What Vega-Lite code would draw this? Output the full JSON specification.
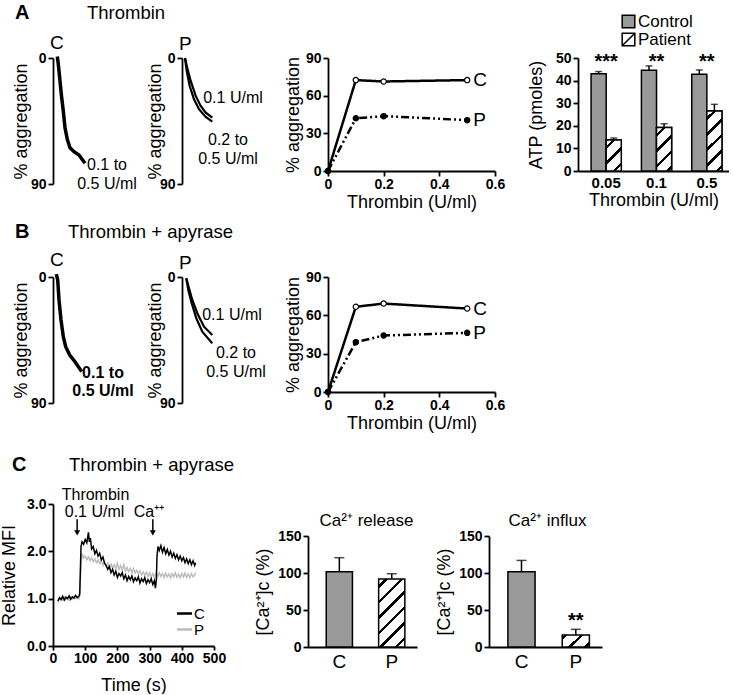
{
"$schema":"https://vega.github.io/schema/vega-lite/v6.json",
"padding":{"left":0,"top":2,"right":0,"bottom":0},
"background":"white",
"config":{
 "font":"Liberation Sans",
 "view":{"stroke":null},
 "axis":{"domainColor":"black","domainWidth":1.8,"tickColor":"black","tickWidth":1.8,"tickSize":5,"labelFont":"Liberation Sans","labelFontWeight":"bold","labelFontSize":14,"labelColor":"black","titleFont":"Liberation Sans","titleFontWeight":"normal","titleFontSize":18,"titleColor":"black","grid":false,"labelPadding":2,"labelOverlap":false,"labelFlush":false},
 "title":{"font":"Liberation Sans","fontWeight":"normal","fontSize":19,"color":"black","anchor":"start"}
},
"resolve":{"scale":{"fill":"independent","stroke":"independent"},"legend":{"fill":"independent","stroke":"independent"}},
"vconcat":[
 {"vconcat":[
  {"hconcat":[
   {"width":46,"height":126,
    "title":{"text":"C","frame":"group","dx":-3,"offset":-3},
    "data":{"values":[{"t":4.3,"agg":-1},{"t":5.3,"agg":4.5},{"t":6.7,"agg":14.1},{"t":8.3,"agg":25.9},{"t":10.3,"agg":37.9},{"t":12,"agg":49.8},{"t":14.3,"agg":58.1},{"t":17,"agg":64.1},{"t":21,"agg":66.9},{"t":26,"agg":69.3},{"t":32,"agg":75.2}]},
    "layer":[
     {"mark":{"type":"line","color":"black","strokeWidth":3.5},
      "encoding":{"x":{"field":"t","type":"quantitative","scale":{"domain":[0,46],"nice":false},"axis":null},
       "y":{"field":"agg","type":"quantitative","scale":{"domain":[0,90],"nice":false,"reverse":true},"axis":{"values":[0,90],"title":"% aggregation","titlePadding":0}}}},
     {"data":{"values":[{"label":"0.1 to\n0.5 U/ml","t":54,"agg":76.1}]},
      "mark":{"type":"text","lineBreak":"\n","fontSize":16,"align":"center","baseline":"middle","lineHeight":19,"color":"black"},
      "encoding":{"x":{"field":"t","type":"quantitative"},"y":{"field":"agg","type":"quantitative"},"text":{"field":"label"}}}
    ]},
   {"width":63,"height":126,
    "title":{"text":"P","frame":"group","dx":-3,"offset":-3},
    "data":{"values":[
     {"t":3,"agg":0,"c":"0.1"},{"t":5.3,"agg":7.1,"c":"0.1"},{"t":8.7,"agg":16.4,"c":"0.1"},{"t":13.7,"agg":27.1,"c":"0.1"},{"t":18.7,"agg":34.3,"c":"0.1"},{"t":23.7,"agg":39,"c":"0.1"},{"t":30.3,"agg":42.6,"c":"0.1"},
     {"t":3,"agg":0,"c":"0.2-0.5"},{"t":4.7,"agg":9.3,"c":"0.2-0.5"},{"t":7.7,"agg":20,"c":"0.2-0.5"},{"t":12,"agg":29.5,"c":"0.2-0.5"},{"t":17,"agg":36.6,"c":"0.2-0.5"},{"t":23.7,"agg":42.1,"c":"0.2-0.5"},{"t":30.3,"agg":45.5,"c":"0.2-0.5"}]},
    "layer":[
     {"mark":{"type":"line","color":"black","strokeWidth":2.2},
      "encoding":{"x":{"field":"t","type":"quantitative","scale":{"domain":[0,63],"nice":false},"axis":null},
       "y":{"field":"agg","type":"quantitative","scale":{"domain":[0,90],"nice":false,"reverse":true},"axis":{"values":[0,90],"title":"% aggregation","titlePadding":-5}},
       "detail":{"field":"c","type":"nominal"}}},
     {"data":{"values":[{"label":"0.1 U/ml","t":51,"agg":28.6},{"label":"0.2 to\n0.5 U/ml","t":46,"agg":58.9}]},
      "mark":{"type":"text","lineBreak":"\n","fontSize":16,"align":"center","baseline":"middle","lineHeight":19,"color":"black"},
      "encoding":{"x":{"field":"t","type":"quantitative"},"y":{"field":"agg","type":"quantitative"},"text":{"field":"label"}}}
    ]},
   {"width":167,"height":113,
    "title":{"text":"Thrombin","fontSize":18.5,"frame":"group","dx":-241,"offset":29},
    "data":{"values":[{"dose":0,"agg":0,"s":"C"},{"dose":0.1,"agg":72.4,"s":"C"},{"dose":0.2,"agg":71.3,"s":"C"},{"dose":0.5,"agg":72.4,"s":"C"},{"dose":0,"agg":0,"s":"P"},{"dose":0.1,"agg":42,"s":"P"},{"dose":0.2,"agg":43.7,"s":"P"},{"dose":0.5,"agg":40.5,"s":"P"}]},
    "encoding":{"x":{"field":"dose","type":"quantitative","scale":{"domain":[0,0.6],"nice":false},"axis":{"values":[0,0.2,0.4,0.6],"format":"~g","title":"Thrombin (U/ml)","labelPadding":1,"titlePadding":2}},
     "y":{"field":"agg","type":"quantitative","scale":{"domain":[0,90],"nice":false},"axis":{"values":[0,30,60,90],"title":"% aggregation","titlePadding":3}}},
    "layer":[
     {"mark":{"type":"line","color":"black","strokeWidth":2.5},"encoding":{"strokeDash":{"field":"s","type":"nominal","scale":{"domain":["C","P"],"range":[[1,0],[8,3,2,3,2,3]]},"legend":null}}},
     {"transform":[{"filter":"datum.s == 'C'"}],"mark":{"type":"point","filled":true,"fill":"white","stroke":"black","size":28,"strokeWidth":1.2,"opacity":1}},
     {"transform":[{"filter":"datum.s == 'P'"}],"mark":{"type":"point","filled":true,"fill":"black","stroke":"black","size":28,"strokeWidth":1.2,"opacity":1}},
     {"transform":[{"filter":"datum.dose == 0.5"}],"mark":{"type":"text","align":"left","dx":6,"fontSize":19,"baseline":"middle","color":"black"},"encoding":{"text":{"field":"s"}}}
    ]},
   {"width":151,"height":113,
    "data":{"values":[
     {"dose":"0.05","group":"Control","atp":43,"hi":44},{"dose":"0.05","group":"Patient","atp":13.7,"hi":14.6},
     {"dose":"0.1","group":"Control","atp":44.6,"hi":46.5},{"dose":"0.1","group":"Patient","atp":19.2,"hi":20.9},
     {"dose":"0.5","group":"Control","atp":42.8,"hi":44.7},{"dose":"0.5","group":"Patient","atp":26.5,"hi":29.5}]},
    "encoding":{"x":{"field":"dose","type":"nominal","sort":["0.05","0.1","0.5"],"scale":{"paddingInner":0.4,"paddingOuter":0.2,"align":0.65},"axis":{"title":"Thrombin (U/ml)","labelAngle":0,"ticks":false,"labelFontSize":15,"labelPadding":4,"titlePadding":1}},
     "y":{"field":"atp","type":"quantitative","scale":{"domain":[0,50],"nice":false},"axis":{"values":[0,10,20,30,40,50],"title":"ATP (pmoles)","titlePadding":10}}},
    "layer":[
     {"mark":{"type":"bar","stroke":"black","strokeWidth":1.5},
      "encoding":{"xOffset":{"field":"group","type":"nominal","scale":{"domain":["Control","Patient"],"paddingInner":0,"paddingOuter":0}},
       "fill":{"field":"group","type":"nominal","scale":{"domain":["Control","Patient"],"range":["#999999","white"]},
        "legend":{"orient":"none","legendX":42,"legendY":-45,"title":null,"symbolType":"square","symbolSize":160,"symbolStrokeColor":"black","symbolStrokeWidth":1.5,"symbolOpacity":1,"labelFontSize":17,"labelFont":"Liberation Sans","labelColor":"black","rowPadding":-1,"labelOffset":1,
         "encode":{"symbols":{"update":{"stroke":{"value":"black"},"strokeWidth":{"value":1.5},"opacity":{"value":1},"fill":[{"test":"datum.label === 'Patient'","value":"white"},{"value":"#999999"}],"shape":[{"test":"datum.label === 'Patient'","value":"M-1,-1H1V1H-1Z M-1,1L1,-1"},{"value":"square"}]}}}}}}},
     {"transform":[{"filter":"datum.group == 'Patient' && datum.dose == '0.05'"}],
      "mark":{"type":"bar","stroke":"black","strokeWidth":1.5,"fill":{"gradient":"linear","x1":0,"y1":0,"x2":0.5818,"y2":1.2024,"stops":[{"offset":0,"color":"white"},{"offset":0.1307,"color":"white"},{"offset":0.1307,"color":"black"},{"offset":0.2075,"color":"black"},{"offset":0.2075,"color":"white"},{"offset":0.4676,"color":"white"},{"offset":0.4676,"color":"black"},{"offset":0.5444,"color":"black"},{"offset":0.5444,"color":"white"},{"offset":0.8045,"color":"white"},{"offset":0.8045,"color":"black"},{"offset":0.8813,"color":"black"},{"offset":0.8813,"color":"white"},{"offset":1,"color":"white"}]}},
      "encoding":{"xOffset":{"field":"group","type":"nominal"}}},
     {"transform":[{"filter":"datum.group == 'Patient' && datum.dose == '0.1'"}],
      "mark":{"type":"bar","stroke":"black","strokeWidth":1.5,"fill":{"gradient":"linear","x1":0,"y1":0,"x2":0.4155,"y2":1.2021,"stops":[{"offset":0,"color":"white"},{"offset":0.1029,"color":"white"},{"offset":0.1029,"color":"black"},{"offset":0.1635,"color":"black"},{"offset":0.1635,"color":"white"},{"offset":0.3682,"color":"white"},{"offset":0.3682,"color":"black"},{"offset":0.4288,"color":"black"},{"offset":0.4288,"color":"white"},{"offset":0.6336,"color":"white"},{"offset":0.6336,"color":"black"},{"offset":0.6942,"color":"black"},{"offset":0.6942,"color":"white"},{"offset":0.899,"color":"white"},{"offset":0.899,"color":"black"},{"offset":0.9596,"color":"black"},{"offset":0.9596,"color":"white"},{"offset":1,"color":"white"}]}},
      "encoding":{"xOffset":{"field":"group","type":"nominal"}}},
     {"transform":[{"filter":"datum.group == 'Patient' && datum.dose == '0.5'"}],
      "mark":{"type":"bar","stroke":"black","strokeWidth":1.5,"fill":{"gradient":"linear","x1":0,"y1":0,"x2":0.2947,"y2":1.1767,"stops":[{"offset":0,"color":"white"},{"offset":0.0803,"color":"white"},{"offset":0.0803,"color":"black"},{"offset":0.1275,"color":"black"},{"offset":0.1275,"color":"white"},{"offset":0.2872,"color":"white"},{"offset":0.2872,"color":"black"},{"offset":0.3344,"color":"black"},{"offset":0.3344,"color":"white"},{"offset":0.4941,"color":"white"},{"offset":0.4941,"color":"black"},{"offset":0.5413,"color":"black"},{"offset":0.5413,"color":"white"},{"offset":0.7011,"color":"white"},{"offset":0.7011,"color":"black"},{"offset":0.7483,"color":"black"},{"offset":0.7483,"color":"white"},{"offset":0.908,"color":"white"},{"offset":0.908,"color":"black"},{"offset":0.9552,"color":"black"},{"offset":0.9552,"color":"white"},{"offset":1,"color":"white"}]}},
      "encoding":{"xOffset":{"field":"group","type":"nominal"}}},
     {"mark":{"type":"rule","color":"black","strokeWidth":1.5},"encoding":{"xOffset":{"field":"group","type":"nominal"},"y2":{"field":"hi"}}},
     {"mark":{"type":"tick","color":"black","thickness":1.5,"size":7},"encoding":{"xOffset":{"field":"group","type":"nominal"},"y":{"field":"hi","type":"quantitative"}}},
     {"data":{"values":[{"dose":"0.05","sig":"***","ypos":45.6},{"dose":"0.1","sig":"**","ypos":45.6},{"dose":"0.5","sig":"**","ypos":45.6}]},
      "mark":{"type":"text","fontSize":20,"fontWeight":"bold","baseline":"alphabetic","fill":"black","opacity":1},
      "encoding":{"x":{"field":"dose","type":"nominal","sort":["0.05","0.1","0.5"]},"y":{"field":"ypos","type":"quantitative"},"text":{"field":"sig","type":"nominal"}}}
    ]}
  ],
  "spacing":83,"bounds":"flush",
  "resolve":{"scale":{"fill":"independent","stroke":"independent"},"legend":{"fill":"independent","stroke":"independent"}},
  "title":{"text":"A","fontWeight":"bold","fontSize":20,"anchor":"start","frame":"group","dx":-38,"offset":-19}
  },
  {"hconcat":[
   {"width":46,"height":126,
    "title":{"text":"C","frame":"group","dx":-3,"offset":-3},
    "data":{"values":[{"t":3.3,"agg":-2},{"t":4.7,"agg":2.1},{"t":6,"agg":16.4},{"t":8,"agg":30.7},{"t":10.3,"agg":42.6},{"t":12.7,"agg":49.8},{"t":16.7,"agg":55.7},{"t":22,"agg":60.5},{"t":28.7,"agg":67.6}]},
    "layer":[
     {"mark":{"type":"line","color":"black","strokeWidth":3.5},
      "encoding":{"x":{"field":"t","type":"quantitative","scale":{"domain":[0,46],"nice":false},"axis":null},
       "y":{"field":"agg","type":"quantitative","scale":{"domain":[0,90],"nice":false,"reverse":true},"axis":{"values":[0,90],"title":"% aggregation","titlePadding":0}}}},
     {"data":{"values":[{"label":"0.1 to\n0.5 U/ml","t":50,"agg":68.5}]},
      "mark":{"type":"text","lineBreak":"\n","fontSize":16,"fontWeight":"bold","align":"center","baseline":"middle","lineHeight":18,"color":"black"},
      "encoding":{"x":{"field":"t","type":"quantitative"},"y":{"field":"agg","type":"quantitative"},"text":{"field":"label"}}}
    ]},
   {"width":63,"height":126,
    "title":{"text":"P","frame":"group","dx":-3,"offset":-3},
    "data":{"values":[
     {"t":4.3,"agg":0.9,"c":"0.1"},{"t":7,"agg":8.1,"c":"0.1"},{"t":10.3,"agg":16.4,"c":"0.1"},{"t":15.3,"agg":25.9,"c":"0.1"},{"t":22,"agg":35.5,"c":"0.1"},{"t":30.3,"agg":41.4,"c":"0.1"},
     {"t":4.3,"agg":0.9,"c":"0.2-0.5"},{"t":6.3,"agg":9.3,"c":"0.2-0.5"},{"t":9.7,"agg":18.8,"c":"0.2-0.5"},{"t":14.3,"agg":29.5,"c":"0.2-0.5"},{"t":20.3,"agg":39.1,"c":"0.2-0.5"},{"t":30.3,"agg":47.4,"c":"0.2-0.5"}]},
    "layer":[
     {"mark":{"type":"line","color":"black","strokeWidth":2.2},
      "encoding":{"x":{"field":"t","type":"quantitative","scale":{"domain":[0,63],"nice":false},"axis":null},
       "y":{"field":"agg","type":"quantitative","scale":{"domain":[0,90],"nice":false,"reverse":true},"axis":{"values":[0,90],"title":"% aggregation","titlePadding":-5}},
       "detail":{"field":"c","type":"nominal"}}},
     {"data":{"values":[{"label":"0.1 U/ml","t":50,"agg":27.1},{"label":"0.2 to\n0.5 U/ml","t":54,"agg":54.3}]},
      "mark":{"type":"text","lineBreak":"\n","fontSize":16,"align":"center","baseline":"middle","lineHeight":19,"color":"black"},
      "encoding":{"x":{"field":"t","type":"quantitative"},"y":{"field":"agg","type":"quantitative"},"text":{"field":"label"}}}
    ]},
   {"width":167,"height":115,
    "title":{"text":"Thrombin + apyrase","fontSize":18.5,"frame":"group","dx":-260,"offset":29},
    "data":{"values":[{"dose":0,"agg":0,"s":"C"},{"dose":0.1,"agg":66.7,"s":"C"},{"dose":0.2,"agg":69.2,"s":"C"},{"dose":0.5,"agg":65.3,"s":"C"},{"dose":0,"agg":0,"s":"P"},{"dose":0.1,"agg":39,"s":"P"},{"dose":0.2,"agg":44.2,"s":"P"},{"dose":0.5,"agg":46.3,"s":"P"}]},
    "encoding":{"x":{"field":"dose","type":"quantitative","scale":{"domain":[0,0.6],"nice":false},"axis":{"values":[0,0.2,0.4,0.6],"format":"~g","title":"Thrombin (U/ml)","labelPadding":1,"titlePadding":2}},
     "y":{"field":"agg","type":"quantitative","scale":{"domain":[0,90],"nice":false},"axis":{"values":[0,30,60,90],"title":"% aggregation","titlePadding":3}}},
    "layer":[
     {"mark":{"type":"line","color":"black","strokeWidth":2.5},"encoding":{"strokeDash":{"field":"s","type":"nominal","scale":{"domain":["C","P"],"range":[[1,0],[8,3,2,3,2,3]]},"legend":null}}},
     {"transform":[{"filter":"datum.s == 'C'"}],"mark":{"type":"point","filled":true,"fill":"white","stroke":"black","size":28,"strokeWidth":1.2,"opacity":1}},
     {"transform":[{"filter":"datum.s == 'P'"}],"mark":{"type":"point","filled":true,"fill":"black","stroke":"black","size":28,"strokeWidth":1.2,"opacity":1}},
     {"transform":[{"filter":"datum.dose == 0.5"}],"mark":{"type":"text","align":"left","dx":6,"fontSize":19,"baseline":"middle","color":"black"},"encoding":{"text":{"field":"s"}}}
    ]}
  ],
  "spacing":83,"bounds":"flush",
  "title":{"text":"B","fontWeight":"bold","fontSize":20,"anchor":"start","frame":"group","dx":-38,"offset":-19}
  }
 ],"spacing":10,
 "resolve":{"scale":{"fill":"independent","stroke":"independent"},"legend":{"fill":"independent","stroke":"independent"}}},
 {"hconcat":[
  {"width":161,"height":142,
   "title":{"text":"Thrombin + apyrase","fontSize":18.5,"frame":"group","dx":16,"offset":13},
   "data":{"values":[
    {"t":15,"v":0.95,"s":"C"},{"t":20,"v":1.02,"s":"C"},{"t":25,"v":0.98,"s":"C"},{"t":30,"v":1.05,"s":"C"},{"t":35,"v":0.97,"s":"C"},{"t":40,"v":1.03,"s":"C"},{"t":45,"v":1.0,"s":"C"},{"t":50,"v":1.06,"s":"C"},{"t":55,"v":0.99,"s":"C"},{"t":60,"v":1.04,"s":"C"},{"t":65,"v":1.01,"s":"C"},{"t":70,"v":1.07,"s":"C"},{"t":75,"v":1.02,"s":"C"},{"t":80,"v":1.05,"s":"C"},{"t":83,"v":1.1,"s":"C"},{"t":85,"v":1.6,"s":"C"},{"t":87,"v":2.1,"s":"C"},{"t":90,"v":2.2,"s":"C"},{"t":95,"v":2.15,"s":"C"},{"t":100,"v":2.25,"s":"C"},{"t":105,"v":2.18,"s":"C"},{"t":110,"v":2.4,"s":"C"},{"t":113,"v":2.2,"s":"C"},{"t":116,"v":2.28,"s":"C"},{"t":120,"v":2.05,"s":"C"},{"t":125,"v":2.1,"s":"C"},{"t":130,"v":1.95,"s":"C"},{"t":135,"v":2.02,"s":"C"},{"t":140,"v":1.9,"s":"C"},{"t":145,"v":1.96,"s":"C"},{"t":150,"v":1.82,"s":"C"},{"t":155,"v":1.88,"s":"C"},{"t":160,"v":1.75,"s":"C"},{"t":165,"v":1.7,"s":"C"},{"t":170,"v":1.62,"s":"C"},{"t":175,"v":1.68,"s":"C"},{"t":180,"v":1.55,"s":"C"},{"t":185,"v":1.62,"s":"C"},{"t":190,"v":1.5,"s":"C"},{"t":195,"v":1.58,"s":"C"},{"t":200,"v":1.45,"s":"C"},{"t":205,"v":1.53,"s":"C"},{"t":210,"v":1.48,"s":"C"},{"t":215,"v":1.55,"s":"C"},{"t":220,"v":1.42,"s":"C"},{"t":225,"v":1.5,"s":"C"},{"t":230,"v":1.38,"s":"C"},{"t":235,"v":1.47,"s":"C"},{"t":240,"v":1.4,"s":"C"},{"t":245,"v":1.48,"s":"C"},{"t":250,"v":1.36,"s":"C"},{"t":255,"v":1.44,"s":"C"},{"t":260,"v":1.38,"s":"C"},{"t":265,"v":1.46,"s":"C"},{"t":270,"v":1.33,"s":"C"},{"t":275,"v":1.42,"s":"C"},{"t":280,"v":1.36,"s":"C"},{"t":285,"v":1.44,"s":"C"},{"t":290,"v":1.32,"s":"C"},{"t":295,"v":1.4,"s":"C"},{"t":300,"v":1.34,"s":"C"},{"t":305,"v":1.42,"s":"C"},{"t":310,"v":1.3,"s":"C"},{"t":315,"v":1.38,"s":"C"},{"t":318,"v":1.22,"s":"C"},{"t":321,"v":1.4,"s":"C"},{"t":323,"v":1.9,"s":"C"},{"t":326,"v":2.1,"s":"C"},{"t":330,"v":2.02,"s":"C"},{"t":335,"v":2.12,"s":"C"},{"t":340,"v":1.98,"s":"C"},{"t":345,"v":2.08,"s":"C"},{"t":350,"v":1.95,"s":"C"},{"t":355,"v":2.04,"s":"C"},{"t":360,"v":1.92,"s":"C"},{"t":365,"v":2.0,"s":"C"},{"t":370,"v":1.88,"s":"C"},{"t":375,"v":1.96,"s":"C"},{"t":380,"v":1.85,"s":"C"},{"t":385,"v":1.93,"s":"C"},{"t":390,"v":1.82,"s":"C"},{"t":395,"v":1.9,"s":"C"},{"t":400,"v":1.8,"s":"C"},{"t":405,"v":1.87,"s":"C"},{"t":410,"v":1.76,"s":"C"},{"t":415,"v":1.84,"s":"C"},{"t":420,"v":1.74,"s":"C"},{"t":425,"v":1.82,"s":"C"},{"t":430,"v":1.72,"s":"C"},{"t":435,"v":1.8,"s":"C"},{"t":440,"v":1.7,"s":"C"},{"t":443,"v":1.76,"s":"C"},
    {"t":15,"v":0.92,"s":"P"},{"t":20,"v":0.99,"s":"P"},{"t":25,"v":1.03,"s":"P"},{"t":30,"v":0.97,"s":"P"},{"t":35,"v":1.04,"s":"P"},{"t":40,"v":0.98,"s":"P"},{"t":45,"v":1.02,"s":"P"},{"t":50,"v":0.96,"s":"P"},{"t":55,"v":1.03,"s":"P"},{"t":60,"v":0.99,"s":"P"},{"t":65,"v":1.05,"s":"P"},{"t":70,"v":1.0,"s":"P"},{"t":75,"v":1.04,"s":"P"},{"t":80,"v":0.99,"s":"P"},{"t":83,"v":1.05,"s":"P"},{"t":85,"v":1.4,"s":"P"},{"t":88,"v":1.8,"s":"P"},{"t":91,"v":1.95,"s":"P"},{"t":95,"v":1.86,"s":"P"},{"t":100,"v":1.9,"s":"P"},{"t":105,"v":1.82,"s":"P"},{"t":110,"v":1.88,"s":"P"},{"t":115,"v":1.8,"s":"P"},{"t":120,"v":1.86,"s":"P"},{"t":125,"v":1.78,"s":"P"},{"t":130,"v":1.84,"s":"P"},{"t":135,"v":1.76,"s":"P"},{"t":140,"v":1.82,"s":"P"},{"t":145,"v":1.74,"s":"P"},{"t":150,"v":1.8,"s":"P"},{"t":155,"v":1.7,"s":"P"},{"t":160,"v":1.77,"s":"P"},{"t":165,"v":1.68,"s":"P"},{"t":170,"v":1.75,"s":"P"},{"t":175,"v":1.66,"s":"P"},{"t":180,"v":1.73,"s":"P"},{"t":185,"v":1.65,"s":"P"},{"t":190,"v":1.72,"s":"P"},{"t":195,"v":1.63,"s":"P"},{"t":200,"v":1.75,"s":"P"},{"t":205,"v":1.62,"s":"P"},{"t":210,"v":1.7,"s":"P"},{"t":215,"v":1.6,"s":"P"},{"t":220,"v":1.72,"s":"P"},{"t":225,"v":1.58,"s":"P"},{"t":230,"v":1.66,"s":"P"},{"t":235,"v":1.57,"s":"P"},{"t":240,"v":1.64,"s":"P"},{"t":245,"v":1.55,"s":"P"},{"t":250,"v":1.63,"s":"P"},{"t":255,"v":1.54,"s":"P"},{"t":260,"v":1.6,"s":"P"},{"t":265,"v":1.52,"s":"P"},{"t":270,"v":1.59,"s":"P"},{"t":275,"v":1.5,"s":"P"},{"t":280,"v":1.57,"s":"P"},{"t":285,"v":1.49,"s":"P"},{"t":290,"v":1.56,"s":"P"},{"t":295,"v":1.47,"s":"P"},{"t":300,"v":1.55,"s":"P"},{"t":305,"v":1.46,"s":"P"},{"t":310,"v":1.53,"s":"P"},{"t":315,"v":1.45,"s":"P"},{"t":320,"v":1.54,"s":"P"},{"t":325,"v":1.46,"s":"P"},{"t":330,"v":1.55,"s":"P"},{"t":335,"v":1.47,"s":"P"},{"t":340,"v":1.53,"s":"P"},{"t":345,"v":1.45,"s":"P"},{"t":350,"v":1.54,"s":"P"},{"t":355,"v":1.46,"s":"P"},{"t":360,"v":1.52,"s":"P"},{"t":365,"v":1.44,"s":"P"},{"t":370,"v":1.53,"s":"P"},{"t":375,"v":1.46,"s":"P"},{"t":380,"v":1.55,"s":"P"},{"t":385,"v":1.45,"s":"P"},{"t":390,"v":1.52,"s":"P"},{"t":395,"v":1.44,"s":"P"},{"t":400,"v":1.53,"s":"P"},{"t":405,"v":1.46,"s":"P"},{"t":410,"v":1.54,"s":"P"},{"t":415,"v":1.45,"s":"P"},{"t":420,"v":1.52,"s":"P"},{"t":425,"v":1.44,"s":"P"},{"t":430,"v":1.53,"s":"P"},{"t":435,"v":1.46,"s":"P"},{"t":440,"v":1.5,"s":"P"},{"t":443,"v":1.55,"s":"P"}]},
   "encoding":{"x":{"field":"t","type":"quantitative","scale":{"domain":[0,500],"nice":false},"axis":{"values":[0,100,200,300,400,500],"title":"Time (s)","tickSize":4,"labelPadding":1,"titlePadding":11}},
    "y":{"field":"v","type":"quantitative","scale":{"domain":[0,3],"nice":false},"axis":{"values":[0,1,2,3],"format":".1f","title":"Relative MFI","titlePadding":8}}},
   "layer":[
    {"transform":[{"filter":"datum.s == 'P'"}],"mark":{"type":"line","strokeWidth":1.5},
     "encoding":{"stroke":{"field":"s","type":"nominal","scale":{"domain":["C","P"],"range":["black","#bdbdbd"]},
      "legend":{"orient":"none","legendX":124,"legendY":102,"title":null,"symbolType":"M-1.5,0H1.5","symbolStrokeWidth":2.5,"symbolSize":100,"labelFontSize":15,"labelFont":"Liberation Sans","labelColor":"black","rowPadding":-5,"labelOffset":2}}}},
    {"transform":[{"filter":"datum.s == 'C'"}],"mark":{"type":"line","strokeWidth":1.5},
     "encoding":{"stroke":{"field":"s","type":"nominal"}}},
    {"data":{"values":[{"t":75,"top":2.68,"bot":2.39},{"t":310,"top":2.68,"bot":2.39}]},
     "mark":{"type":"rule","color":"black","strokeWidth":1.5},
     "encoding":{"x":{"field":"t","type":"quantitative"},"y":{"field":"top","type":"quantitative"},"y2":{"field":"bot"}}},
    {"data":{"values":[{"t":75,"top":2.68,"bot":2.39},{"t":310,"top":2.68,"bot":2.39}]},
     "mark":{"type":"point","shape":"triangle-down","filled":true,"color":"black","size":36,"opacity":1},
     "encoding":{"x":{"field":"t","type":"quantitative"},"y":{"field":"bot","type":"quantitative"}}},
    {"data":{"values":[{"t":132,"y":3.19,"label":"Thrombin"},{"t":129,"y":2.83,"label":"0.1 U/ml"},{"t":298,"y":2.83,"label":"Ca⁺⁺"}]},
     "mark":{"type":"text","fontSize":16,"align":"center","baseline":"middle","color":"black"},
     "encoding":{"x":{"field":"t","type":"quantitative"},"y":{"field":"y","type":"quantitative"},"text":{"field":"label"}}}
   ]},
  {"vconcat":[
   {"width":1,"height":1,"data":{"values":[]},"mark":"point"},
   {"hconcat":[
    {"width":109,"height":111,
     "title":{"text":"Ca²⁺ release","anchor":"middle","fontSize":17,"dx":4,"offset":-1},
     "data":{"values":[{"grp":"C","val":101.8,"hi":120.7},{"grp":"P","val":91.9,"hi":99}]},
     "encoding":{"x":{"field":"grp","type":"nominal","scale":{"paddingInner":0.5,"paddingOuter":0.29,"align":0.6},"axis":{"title":null,"labelAngle":0,"ticks":false,"labelFontWeight":"normal","labelFontSize":19,"labelPadding":5}},
      "y":{"field":"val","type":"quantitative","scale":{"domain":[0,150],"nice":false},"axis":{"values":[0,50,100,150],"title":"[Ca²⁺]c (%)","titlePadding":5}}},
     "layer":[
      {"transform":[{"filter":"datum.grp == 'C'"}],"mark":{"type":"bar","stroke":"black","strokeWidth":1.5,"fill":"#999999"}},
      {"transform":[{"filter":"datum.grp == 'P'"}],"mark":{"type":"bar","stroke":"black","strokeWidth":1.5,"fill":{"gradient":"linear","x1":0,"y1":0,"x2":0.4647,"y2":1.2062,"stops":[{"offset":0,"color":"white"},{"offset":0.0638,"color":"white"},{"offset":0.0638,"color":"black"},{"offset":0.1014,"color":"black"},{"offset":0.1014,"color":"white"},{"offset":0.2283,"color":"white"},{"offset":0.2283,"color":"black"},{"offset":0.2659,"color":"black"},{"offset":0.2659,"color":"white"},{"offset":0.3928,"color":"white"},{"offset":0.3928,"color":"black"},{"offset":0.4304,"color":"black"},{"offset":0.4304,"color":"white"},{"offset":0.5574,"color":"white"},{"offset":0.5574,"color":"black"},{"offset":0.595,"color":"black"},{"offset":0.595,"color":"white"},{"offset":0.7219,"color":"white"},{"offset":0.7219,"color":"black"},{"offset":0.7595,"color":"black"},{"offset":0.7595,"color":"white"},{"offset":0.8865,"color":"white"},{"offset":0.8865,"color":"black"},{"offset":0.9241,"color":"black"},{"offset":0.9241,"color":"white"},{"offset":1,"color":"white"}]}}},
      {"mark":{"type":"rule","color":"black","strokeWidth":1.5},"encoding":{"y2":{"field":"hi"}}},
      {"mark":{"type":"tick","color":"black","thickness":1.5,"size":10},"encoding":{"y":{"field":"hi","type":"quantitative"}}}
     ]},
    {"width":113,"height":111,
     "title":{"text":"Ca²⁺ influx","anchor":"middle","fontSize":17,"dx":2,"offset":-1},
     "data":{"values":[{"grp":"C","val":101.8,"hi":117,"sig":""},{"grp":"P","val":16.2,"hi":23.9,"sig":"**"}]},
     "encoding":{"x":{"field":"grp","type":"nominal","scale":{"paddingInner":0.5,"paddingOuter":0.29,"align":0.6},"axis":{"title":null,"labelAngle":0,"ticks":false,"labelFontWeight":"normal","labelFontSize":19,"labelPadding":5}},
      "y":{"field":"val","type":"quantitative","scale":{"domain":[0,150],"nice":false},"axis":{"values":[0,50,100,150],"title":"[Ca²⁺]c (%)","titlePadding":5}}},
     "layer":[
      {"transform":[{"filter":"datum.grp == 'C'"}],"mark":{"type":"bar","stroke":"black","strokeWidth":1.5,"fill":"#999999"}},
      {"transform":[{"filter":"datum.grp == 'P'"}],"mark":{"type":"bar","stroke":"black","strokeWidth":1.5,"fill":{"gradient":"linear","x1":0,"y1":0,"x2":1.2056,"y2":0.5459,"stops":[{"offset":0,"color":"white"},{"offset":0.0511,"color":"white"},{"offset":0.0511,"color":"black"},{"offset":0.1429,"color":"black"},{"offset":0.1429,"color":"white"},{"offset":0.4537,"color":"white"},{"offset":0.4537,"color":"black"},{"offset":0.5455,"color":"black"},{"offset":0.5455,"color":"white"},{"offset":0.8564,"color":"white"},{"offset":0.8564,"color":"black"},{"offset":0.9482,"color":"black"},{"offset":0.9482,"color":"white"},{"offset":1,"color":"white"}]}}},
      {"mark":{"type":"rule","color":"black","strokeWidth":1.5},"encoding":{"y2":{"field":"hi"}}},
      {"mark":{"type":"tick","color":"black","thickness":1.5,"size":10},"encoding":{"y":{"field":"hi","type":"quantitative"}}},
      {"mark":{"type":"text","fontSize":20,"fontWeight":"bold","baseline":"alphabetic","dy":-2,"color":"black"},"encoding":{"y":{"field":"hi","type":"quantitative"},"text":{"field":"sig"}}}
     ]}
   ],"spacing":72,"bounds":"flush"}
  ],"spacing":31,"bounds":"flush"}
 ],"spacing":94,"bounds":"flush",
 "resolve":{"scale":{"fill":"independent","stroke":"independent"},"legend":{"fill":"independent","stroke":"independent"}},
 "title":{"text":"C","fontWeight":"bold","fontSize":20,"anchor":"start","frame":"group","dx":-41,"offset":-19}
 }
],
"spacing":22
}
